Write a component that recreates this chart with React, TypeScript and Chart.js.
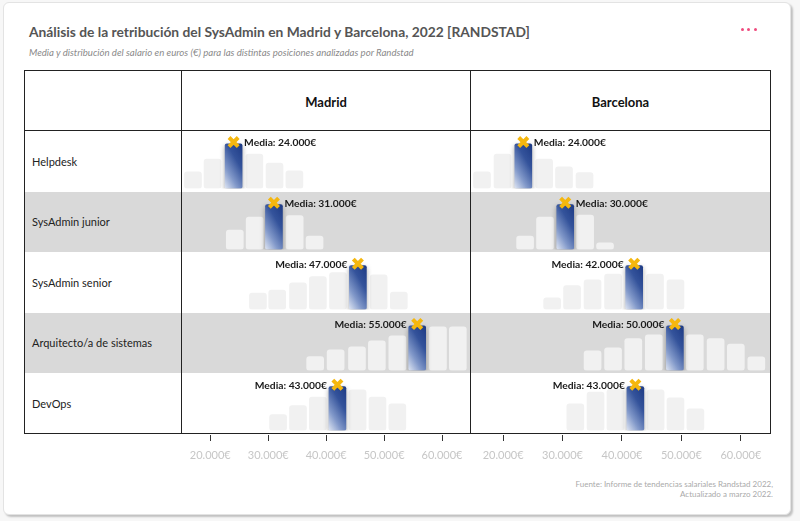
import React, { useEffect, useRef } from 'react';
import { Chart, registerables } from 'chart.js';

Chart.register(...registerables);
Chart.defaults.font.family = 'Lato';

const chartTitle = 'Análisis de la retribución del SysAdmin en Madrid y Barcelona, 2022 [RANDSTAD]';
const chartSubtitle = 'Media y distribución del salario en euros (€) para las distintas posiciones analizadas por Randstad';
const sourceLines = ['Fuente: Informe de tendencias salariales Randstad 2022,', 'Actualizado a marzo 2022.'];

const cities = ['Madrid', 'Barcelona'];
const positions = ['Helpdesk', 'SysAdmin junior', 'SysAdmin senior', 'Arquitecto/a de sistemas', 'DevOps'];
const tickValues = [20000, 30000, 40000, 50000, 60000];

const madridMeans = [24000, 31000, 47000, 55000, 43000];
const barcelonaMeans = [24000, 30000, 42000, 50000, 43000];

// salary bin centres (€) of each histogram
const madridBins = [
  [17800, 21100, 24650, 28150, 31550, 34900],
  [24850, 28200, 31450, 34950, 38300],
  [28750, 32000, 35500, 38850, 42250, 45600, 49100, 52500],
  [38400, 41850, 45450, 48800, 52250, 55600, 59100, 62450],
  [32150, 35500, 38850, 42150, 45550, 48900, 52250],
];
const madridShares = [
  [16.6, 29.3, 44.6, 34.3, 25.3, 17.6],
  [19.3, 32.3, 45, 34, 13.3],
  [16.4, 19.4, 26.7, 33, 37, 44, 34.7, 17.4],
  [14, 20.7, 23.7, 29.7, 34.7, 44.7, 43.7, 43.7],
  [16, 25, 33.3, 44, 40.7, 33.3, 26.7],
];
const madridMeanBin = [2, 2, 5, 5, 3];

const barcelonaBins = [
  [16450, 19900, 23400, 26900, 30250, 33700],
  [23700, 27050, 30450, 33800, 37150],
  [28250, 31600, 35050, 38500, 42050, 45550, 49000],
  [35050, 38500, 41900, 45350, 48900, 52250, 55750, 59150, 62600],
  [32150, 35550, 38900, 42250, 45650, 49000, 52350],
];
const barcelonaShares = [
  [16.6, 34.3, 44.6, 29.3, 21.6, 16],
  [13.3, 32.3, 45, 34.3, 6.7],
  [11.7, 24, 29.7, 35.4, 44, 35.4, 29.7],
  [19.7, 22.7, 32, 35.7, 44.7, 35.7, 32, 26.4, 13.7],
  [26.7, 38.3, 41, 44, 40.7, 32.7, 21.7],
];
const barcelonaMeanBin = [2, 2, 4, 4, 3];

const labelOnLeft = [false, false, true, true, true];

// axis ranges of each column (€)
const madridRange = [15950, 64500];
const barcelonaRange = [14600, 64900];

// ---------- layout ----------
const COL_LEFT = [182, 471];
const COL_W = [288, 299];
const BODY_TOP = 131;
const ROW_H = 60.5;
const CELL_H = 60;
const AXIS_H = 64;
const AXIS_TOP = 403;

const fmt = (n: number) => String(Math.round(n)).replace(/\B(?=(\d{3})+(?!\d))/g, '.');

const meanBarColor = (ctx: any) => {
  const chart = ctx.chart;
  if (!chart.chartArea || !ctx.raw) return '#3a5598';
  const xs = chart.scales.x;
  const ys = chart.scales.y;
  const cx = xs.getPixelForValue(ctx.raw.x);
  const top = ys.getPixelForValue(ctx.raw.y);
  const base = ys.getPixelForValue(0);
  const h = base - top;
  const ux = -0.863, uy = 0.506;
  const L = 17 * 0.863 + h * uy;
  const x0 = cx + 8.5;
  const g = chart.ctx.createLinearGradient(x0, top, x0 + ux * L, top + uy * L);
  g.addColorStop(0, '#1d3a84');
  g.addColorStop(0.35, '#34539b');
  g.addColorStop(0.7, '#8198c9');
  g.addColorStop(1, '#dde4f2');
  return g;
};

const shadowPlugin = {
  id: 'meanShadow',
  beforeDatasetDraw(chart: any, args: any) {
    if (args.index !== 1) return;
    const c = chart.ctx;
    c.save();
    c.shadowColor = 'rgba(0,0,0,0.35)';
    c.shadowBlur = 5;
    c.shadowOffsetX = 0;
    c.shadowOffsetY = 2;
  },
  afterDatasetDraw(chart: any, args: any) {
    if (args.index !== 1) return;
    chart.ctx.restore();
  },
};

const meanLabelPlugin = {
  id: 'meanLabel',
  afterDatasetsDraw(chart: any, _args: any, opts: any) {
    const meta = chart.getDatasetMeta(2);
    const pt = meta && meta.data[0];
    if (!pt) return;
    const c = chart.ctx;
    c.save();
    c.font = 'bold 10.3px Lato';
    c.fillStyle = '#1b1b1b';
    c.textBaseline = 'middle';
    c.textAlign = opts.left ? 'right' : 'left';
    c.fillText(opts.text, pt.x + (opts.left ? -10.5 : 10.5), pt.y + 0.5);
    c.restore();
  },
};

type CellProps = {
  bins: number[];
  shares: number[];
  meanIdx: number;
  mean: number;
  range: number[];
  left: number;
  top: number;
  width: number;
  labelLeft: boolean;
};

function HistCell({ bins, shares, meanIdx, mean, range, left, top, width, labelLeft }: CellProps) {
  const ref = useRef<HTMLCanvasElement>(null);
  useEffect(() => {
    if (!ref.current) return;
    const pad = 2.5;
    const grey = bins
      .map((x, i) => ({ x, y: shares[i] }))
      .filter((_, i) => i !== meanIdx);
    const meanPoint = { x: bins[meanIdx], y: shares[meanIdx] };
    const chart = new Chart(ref.current, {
      type: 'bar',
      data: {
        datasets: [
          {
            type: 'bar',
            data: grey as any,
            backgroundColor: '#f1f1f1',
            borderRadius: 3,
            borderSkipped: false,
            barThickness: 17,
            grouped: false,
            order: 3,
          } as any,
          {
            type: 'bar',
            data: [meanPoint] as any,
            backgroundColor: meanBarColor,
            borderRadius: 2,
            borderSkipped: false,
            barThickness: 17,
            grouped: false,
            order: 2,
          } as any,
          {
            type: 'scatter',
            data: [{ x: meanPoint.x, y: meanPoint.y + 1.8 }] as any,
            pointStyle: 'crossRot',
            pointRadius: 6.5,
            pointBorderWidth: 4,
            pointBorderColor: '#f5b70e',
            pointBackgroundColor: '#f5b70e',
            clip: false,
            order: 1,
          } as any,
        ],
      },
      options: {
        animation: false,
        responsive: false,
        devicePixelRatio: 1,
        events: [],
        layout: { autoPadding: false, padding: { top: 0, bottom: pad, left: 0, right: 0 } },
        plugins: {
          legend: { display: false },
          tooltip: { enabled: false },
          meanLabel: { text: 'Media: ' + fmt(mean) + '€', left: labelLeft },
        } as any,
        scales: {
          x: { type: 'linear', min: range[0], max: range[1], offset: false, display: false },
          y: { type: 'linear', min: 0, max: CELL_H - pad, display: false },
        },
      },
      plugins: [shadowPlugin, meanLabelPlugin],
    } as any);
    return () => chart.destroy();
  }, []);
  return (
    <canvas
      ref={ref}
      width={width}
      height={CELL_H}
      style={{ position: 'absolute', left, top, width, height: CELL_H, zIndex: 2 }}
    />
  );
}

function TickAxis({ range, left, width }: { range: number[]; left: number; width: number }) {
  const ref = useRef<HTMLCanvasElement>(null);
  useEffect(() => {
    if (!ref.current) return;
    const chart = new Chart(ref.current, {
      type: 'scatter',
      data: { datasets: [{ data: [] }] },
      options: {
        animation: false,
        responsive: false,
        devicePixelRatio: 1,
        events: [],
        layout: { autoPadding: false, padding: 0 },
        plugins: { legend: { display: false }, tooltip: { enabled: false } },
        scales: {
          x: {
            type: 'linear',
            min: range[0],
            max: range[1],
            offset: false,
            position: 'bottom',
            afterBuildTicks: (axis: any) => {
              axis.ticks = tickValues.map((v) => ({ value: v }));
            },
            grid: {
              display: true,
              drawOnChartArea: false,
              drawTicks: true,
              tickLength: 6,
              color: '#333333',
              lineWidth: 1,
            },
            border: { display: false },
            ticks: {
              color: '#c6c6c6',
              font: { family: 'Lato', size: 11 },
              padding: 8,
              autoSkip: false,
              maxRotation: 0,
              minRotation: 0,
              callback: (v: any) => fmt(Number(v)) + '€',
            },
          },
          y: { display: false },
        },
      },
    } as any);
    return () => chart.destroy();
  }, []);
  return (
    <canvas
      ref={ref}
      width={width}
      height={AXIS_H}
      style={{ position: 'absolute', left, top: AXIS_TOP, width, height: AXIS_H, zIndex: 1 }}
    />
  );
}

const LINE = '#222222';

export default function App() {
  const cityData = [
    { bins: madridBins, shares: madridShares, meanBin: madridMeanBin, means: madridMeans, range: madridRange },
    { bins: barcelonaBins, shares: barcelonaShares, meanBin: barcelonaMeanBin, means: barcelonaMeans, range: barcelonaRange },
  ];

  return (
    <div
      style={{
        position: 'absolute',
        left: 0,
        top: 0,
        width: 800,
        height: 521,
        background: '#f7f7f7',
        fontFamily: 'Lato, sans-serif',
        overflow: 'hidden',
      }}
    >
      {/* card */}
      <div
        style={{
          position: 'absolute',
          left: 3,
          top: 2,
          width: 788,
          height: 513,
          boxSizing: 'border-box',
          background: '#ffffff',
          border: '1px solid #e3e3e3',
          borderRadius: 6,
          boxShadow: '2px 2px 2px rgba(0,0,0,0.22)',
        }}
      />
      {/* title */}
      <div
        style={{
          position: 'absolute',
          left: 29,
          top: 25,
          fontSize: 13.8,
          lineHeight: '14px',
          fontWeight: 700,
          color: '#555555',
          whiteSpace: 'nowrap',
        }}
      >
        {chartTitle}
      </div>
      <div
        style={{
          position: 'absolute',
          left: 29,
          top: 46.5,
          fontSize: 9.65,
          lineHeight: '10px',
          fontStyle: 'italic',
          color: '#8a8a8a',
          whiteSpace: 'nowrap',
        }}
      >
        {chartSubtitle}
      </div>
      {/* menu dots */}
      {[741, 747.3, 753.6].map((x, i) => (
        <div
          key={i}
          style={{
            position: 'absolute',
            left: x,
            top: 28,
            width: 3,
            height: 3,
            borderRadius: 1.5,
            background: '#ef4b7e',
          }}
        />
      ))}

      {/* striped rows */}
      {positions.map((_, i) =>
        i % 2 === 1 ? (
          <div
            key={'bg' + i}
            style={{
              position: 'absolute',
              left: 25,
              top: BODY_TOP + i * ROW_H,
              width: 745,
              height: ROW_H,
              background: '#d9d9d9',
            }}
          />
        ) : null
      )}

      {/* header texts */}
      {cities.map((c, j) => (
        <div
          key={c}
          style={{
            position: 'absolute',
            left: COL_LEFT[j],
            width: COL_W[j],
            top: 96,
            textAlign: 'center',
            fontSize: 13,
            lineHeight: '13px',
            fontWeight: 700,
            color: '#111111',
          }}
        >
          {c}
        </div>
      ))}

      {/* row labels */}
      {positions.map((p, i) => (
        <div
          key={p}
          style={{
            position: 'absolute',
            left: 32,
            top: BODY_TOP + i * ROW_H,
            height: ROW_H,
            display: 'flex',
            alignItems: 'center',
            fontSize: 11,
            color: '#222222',
            whiteSpace: 'nowrap',
          }}
        >
          {p}
        </div>
      ))}

      {/* axes */}
      {cityData.map((cd, j) => (
        <TickAxis key={'ax' + j} range={cd.range} left={COL_LEFT[j]} width={COL_W[j]} />
      ))}

      {/* histogram cells */}
      {cityData.map((cd, j) =>
        positions.map((_, i) => (
          <HistCell
            key={j + '-' + i}
            bins={cd.bins[i]}
            shares={cd.shares[i]}
            meanIdx={cd.meanBin[i]}
            mean={cd.means[i]}
            range={cd.range}
            left={COL_LEFT[j]}
            top={Math.round(BODY_TOP + i * ROW_H)}
            width={COL_W[j]}
            labelLeft={labelOnLeft[i]}
          />
        ))
      )}

      {/* table lines */}
      <div style={{ position: 'absolute', left: 24, top: 70, width: 747, height: 1, background: LINE, zIndex: 3 }} />
      <div style={{ position: 'absolute', left: 24, top: 130, width: 747, height: 1, background: LINE, zIndex: 3 }} />
      <div style={{ position: 'absolute', left: 24, top: 433, width: 747, height: 1, background: LINE, zIndex: 3 }} />
      <div style={{ position: 'absolute', left: 24, top: 70, width: 1, height: 364, background: LINE, zIndex: 3 }} />
      <div style={{ position: 'absolute', left: 181, top: 70, width: 1, height: 364, background: LINE, zIndex: 3 }} />
      <div style={{ position: 'absolute', left: 470, top: 70, width: 1, height: 364, background: LINE, zIndex: 3 }} />
      <div style={{ position: 'absolute', left: 770, top: 70, width: 1, height: 364, background: LINE, zIndex: 3 }} />

      {/* source */}
      <div
        style={{
          position: 'absolute',
          right: 27,
          top: 480,
          textAlign: 'right',
          fontSize: 8,
          lineHeight: '9.5px',
          color: '#aaaaaa',
          whiteSpace: 'nowrap',
        }}
      >
        {sourceLines.map((l) => (
          <div key={l}>{l}</div>
        ))}
      </div>
    </div>
  );
}
